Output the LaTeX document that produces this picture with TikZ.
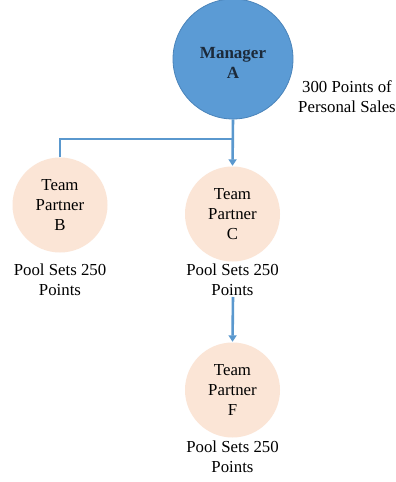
\documentclass[tikz,border=0pt]{standalone}
\usepackage{fontspec}
\setmainfont{Liberation Serif}
\usetikzlibrary{arrows.meta}
\definecolor{mgrblue}{HTML}{5B9BD5}
\definecolor{mgredge}{HTML}{4A84BA}
\definecolor{peach}{HTML}{FBE5D6}
\definecolor{linkblue}{HTML}{5A98CE}
\definecolor{mgrtext}{HTML}{1C2A3A}
\begin{document}
\begin{tikzpicture}[x=1pt,y=-1pt,
  every node/.style={font=\fontsize{16.8}{20}\selectfont, align=center, inner sep=0pt},
  manager/.style={circle, fill=mgrblue, draw=mgredge, line width=0.8pt, minimum size=120pt},
  mgrlabel/.style={text=mgrtext, font=\fontsize{17}{20}\selectfont\bfseries},
  partner/.style={circle, fill=peach, minimum size=95pt},
  caption/.style={text=black},
  link/.style={draw=linkblue, line width=2.6pt},
  arrowlink/.style={link, -{Triangle[width=8pt,length=6.5pt]}, shorten >=0.5pt}
]
\useasboundingbox (0,0) rectangle (396,482);
\fill[white] (0,0) rectangle (396,482);

% manager at the top
\node[manager] (mgr) at (233,59) {};
\node[mgrlabel] (mgrname) at (233,63) {Manager\\A};
\node[caption] (mgrpts) at (347,97) {300 Points of\\Personal Sales};

% team partners
\node[partner] (b) at (60,205) {Team\\Partner\\B};
\node[partner] (c) at (232.5,214) {Team\\Partner\\C};
\node[partner] (f) at (232.5,390) {Team\\Partner\\F};

% pool captions
\node[caption] (bpool) at (60,280) {Pool Sets 250\\Points};
\node[caption] (cpool) at (232.5,280) {Pool Sets 250\\Points};
\node[caption] (fpool) at (232.5,457) {Pool Sets 250\\Points};

% connectors
\coordinate (split) at (233,139);
\coordinate (cfoot) at (233,297);
\draw[arrowlink] (mgr.south) -- (c.north);
\draw[link] (b.north) |- (split);
\draw[arrowlink] (cfoot) -- (f.north);
\end{tikzpicture}
\end{document}
